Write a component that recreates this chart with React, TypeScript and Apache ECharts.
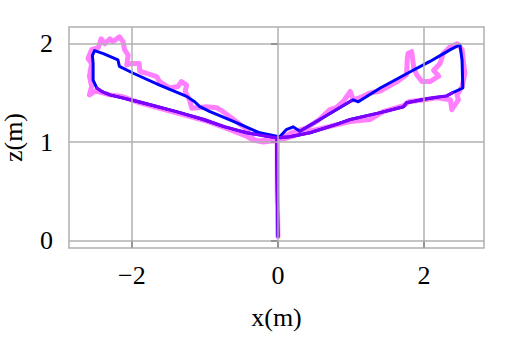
import React, { useEffect, useRef } from "react";
import * as echarts from "echarts";

// x tick values and y tick values
const xTicks = [-2, 0, 2];
const zTicks = [0, 1, 2];

// noisy measured trajectory (pink)
const pinkX = [0.0, -0.01, -0.01, -0.07, -0.25, -0.34, -0.43, -0.75, -0.84, -0.98, -1.18, -1.21, -1.27, -1.25, -1.32, -1.37, -1.48, -1.62, -1.66, -1.8, -1.89, -1.9, -2.0, -2.07, -2.05, -2.1, -2.12, -2.17, -2.26, -2.3, -2.37, -2.42, -2.46, -2.55, -2.6, -2.55, -2.58, -2.55, -2.58, -2.5, -2.3, -2.14, -1.89, -1.6, -1.3, -1.0, -0.7, -0.5, -0.43, -0.34, -0.2, -0.02, 0.07, 0.2, 0.39, 0.55, 0.71, 0.8, 0.9, 0.99, 1.03, 1.15, 1.26, 1.4, 1.63, 1.76, 1.77, 1.78, 1.83, 1.86, 1.9, 1.97, 2.08, 2.2, 2.13, 2.22, 2.26, 2.36, 2.45, 2.52, 2.54, 2.56, 2.52, 2.45, 2.47, 2.38, 2.36, 2.17, 2.0, 1.79, 1.72, 1.44, 1.26, 0.99, 0.71, 0.35, 0.07];
const pinkZ = [0.04, 0.5, 1.0, 1.05, 1.01, 1.03, 1.13, 1.31, 1.35, 1.36, 1.345, 1.43, 1.515, 1.58, 1.615, 1.565, 1.55, 1.615, 1.665, 1.7, 1.72, 1.8, 1.8, 1.785, 1.885, 1.94, 2.02, 2.07, 2.02, 2.05, 2.0, 2.05, 1.96, 1.94, 1.85, 1.8, 1.67, 1.565, 1.48, 1.52, 1.48, 1.465, 1.4, 1.34, 1.28, 1.22, 1.14, 1.08, 1.06, 1.02, 1.0, 1.02, 1.05, 1.1, 1.145, 1.22, 1.33, 1.35, 1.42, 1.515, 1.43, 1.46, 1.5, 1.52, 1.615, 1.685, 1.85, 1.9, 1.92, 1.75, 1.685, 1.615, 1.615, 1.67, 1.73, 1.8, 1.9, 1.97, 2.0, 1.94, 1.8, 1.7, 1.565, 1.48, 1.43, 1.33, 1.43, 1.45, 1.43, 1.41, 1.37, 1.31, 1.23, 1.21, 1.16, 1.095, 1.03];

// estimated trajectory (blue)
const blueX = [0.0, -0.01, -0.02, -0.02, -0.25, -0.61, -0.93, -1.07, -1.14, -1.25, -1.62, -1.98, -2.17, -2.19, -2.39, -2.51, -2.54, -2.53, -2.53, -2.48, -2.4, -2.3, -1.91, -1.75, -1.39, -1.02, -0.75, -0.43, -0.02, 0.03, 0.12, 0.21, 0.3, 0.62, 1.03, 1.1, 1.4, 1.85, 2.08, 2.36, 2.49, 2.52, 2.53, 2.4, 2.31, 2.04, 1.76, 1.72, 1.4, 0.99, 0.8, 0.44, 0.16, 0.03];
const blueZ = [0.04, 0.5, 1.0, 1.06, 1.095, 1.21, 1.31, 1.36, 1.41, 1.465, 1.58, 1.7, 1.77, 1.835, 1.9, 1.93, 1.88, 1.8, 1.63, 1.55, 1.51, 1.48, 1.41, 1.38, 1.31, 1.23, 1.16, 1.095, 1.045, 1.06, 1.13, 1.155, 1.11, 1.25, 1.43, 1.41, 1.55, 1.73, 1.82, 1.94, 1.99, 1.835, 1.55, 1.505, 1.47, 1.44, 1.4, 1.36, 1.3, 1.23, 1.18, 1.095, 1.055, 1.045];

// second estimate (violet), lower branches
const violetLowerX = [-2.48, -2.4, -2.3, -1.91, -1.75, -1.39, -1.02, -0.75, -0.43, -0.02, 0.16, 0.44, 0.8, 0.99, 1.4, 1.72, 1.76, 2.04, 2.31, 2.38];
const violetLowerZ = [1.55, 1.51, 1.48, 1.41, 1.38, 1.31, 1.23, 1.16, 1.095, 1.045, 1.055, 1.095, 1.18, 1.23, 1.3, 1.36, 1.4, 1.44, 1.47, 1.5];
// violet stem
const violetStemX = [0.0, -0.01, -0.02, -0.02];
const violetStemZ = [0.04, 0.5, 1.0, 1.04];
// violet upper-right start
const violetUpperX = [0.3, 0.62, 1.0];
const violetUpperZ = [1.11, 1.25, 1.42];

const pair = (xs: number[], zs: number[]) => xs.map((x, i) => [x, zs[i]]);

const FONT = "'Liberation Serif', 'Times New Roman', serif";
const fmt = (v: number) => (v < 0 ? "\u2212" + Math.abs(v) : String(v));

export default function App() {
  const ref = useRef<HTMLDivElement>(null);
  useEffect(() => {
    if (!ref.current) return;
    const chart = echarts.init(ref.current, undefined, { renderer: "svg" });
    const gridColor = "#b0b0b0";
    chart.setOption({
      animation: false,
      backgroundColor: "#ffffff",
      grid: {
        left: 69,
        top: 27,
        width: 415,
        height: 221,
        containLabel: false,
        outerBoundsMode: "none",
        show: true,
        borderColor: gridColor,
        borderWidth: 1.5,
        backgroundColor: "transparent",
      },
      xAxis: {
        type: "value",
        min: -2.86,
        max: 2.82,
        name: "x(m)",
        nameLocation: "middle",
        nameGap: 56,
        nameTextStyle: { fontFamily: FONT, fontSize: 26, color: "#000" },
        axisLine: { show: false },
        axisTick: { show: true, length: 7, inside: false, customValues: xTicks, lineStyle: { color: "#000", width: 1.5 } },
        axisLabel: { customValues: xTicks, formatter: fmt, margin: 14, fontFamily: FONT, fontSize: 26, color: "#000" },
        splitLine: { show: false },
      },
      yAxis: {
        type: "value",
        min: -0.076,
        max: 2.17,
        name: "z(m)",
        nameLocation: "middle",
        nameGap: 43,
        nameTextStyle: { fontFamily: FONT, fontSize: 26, color: "#000" },
        axisLine: { show: false },
        axisTick: { show: true, length: 7, inside: false, customValues: zTicks, lineStyle: { color: "#000", width: 1.5 } },
        axisLabel: { customValues: zTicks, formatter: fmt, margin: 16, fontFamily: FONT, fontSize: 26, color: "#000" },
        splitLine: { show: false },
      },
      series: [
        {
          type: "line",
          data: [],
          z: 1,
          silent: true,
          markLine: {
            silent: true,
            symbol: ["none", "none"],
            label: { show: false },
            lineStyle: { color: gridColor, width: 1.5, type: "solid" },
            data: [...xTicks.map((v) => ({ xAxis: v })), ...zTicks.map((v) => ({ yAxis: v }))],
          },
        },
        {
          type: "line",
          data: pair(pinkX, pinkZ),
          showSymbol: false,
          z: 2,
          lineStyle: { color: "#ff00ff", width: 5, opacity: 0.5, join: "round", cap: "round" },
        },
        {
          type: "line",
          data: pair(blueX, blueZ),
          showSymbol: false,
          z: 3,
          lineStyle: { color: "#0000ff", width: 3, join: "round", cap: "round" },
        },
        {
          type: "line",
          data: pair(violetLowerX, violetLowerZ),
          showSymbol: false,
          z: 4,
          lineStyle: { color: "#7f00ff", width: 3, join: "round", cap: "round" },
        },
        {
          type: "line",
          data: pair(violetStemX, violetStemZ),
          showSymbol: false,
          z: 4,
          lineStyle: { color: "#7f00ff", width: 3, join: "round", cap: "round" },
        },
        {
          type: "line",
          data: pair(violetUpperX, violetUpperZ),
          showSymbol: false,
          z: 4,
          lineStyle: { color: "#6a00ff", width: 3, join: "round", cap: "round" },
        },
      ],
    });
    return () => chart.dispose();
  }, []);
  return <div ref={ref} style={{ position: "absolute", left: 0, top: 0, width: 511, height: 360 }} />;
}
